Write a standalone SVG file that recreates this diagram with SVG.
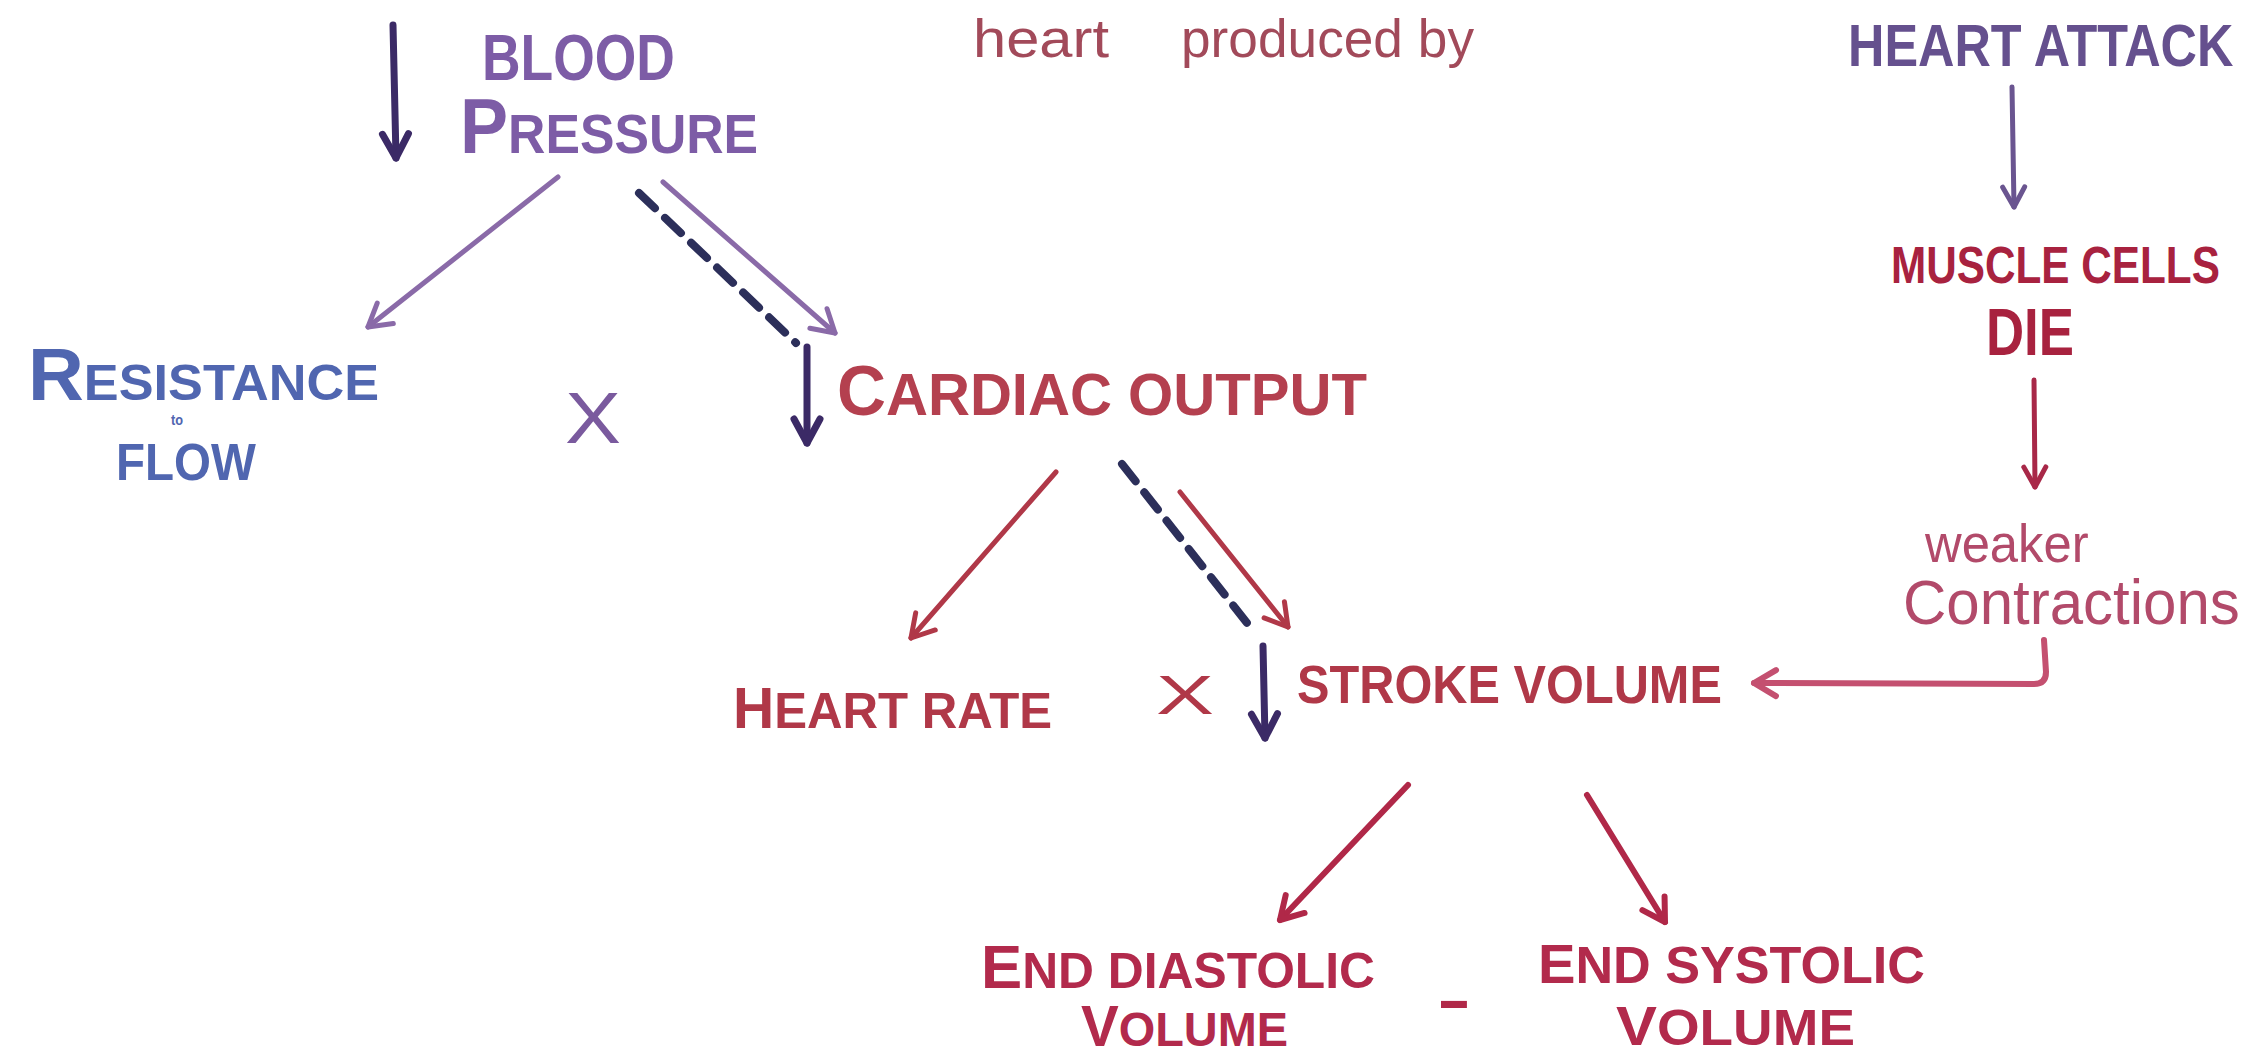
<svg xmlns="http://www.w3.org/2000/svg" width="2244" height="1059" viewBox="0 0 2244 1059">
<style>
text{font-family:"Liberation Sans","Open Sans",sans-serif;font-weight:700}
.bp{fill:#7d5ca6}
.res{fill:#5066b0}
.co{fill:#b4404f}
.red{fill:#b03848}
.crim{fill:#b22a4c}
.ha{fill:#65508e}
.mc{fill:#a8223f}
.wk{fill:#b24a6a;font-weight:400}
.top{fill:#a24a5a;font-weight:400}
.op{font-weight:400}
.ln{fill:none;stroke-linecap:round;stroke-linejoin:round}
</style>
<defs>
<marker id="ah-lp" viewBox="-30 -20 40 40" refX="0" refY="0" markerWidth="40" markerHeight="40" markerUnits="userSpaceOnUse" orient="auto"><path d="M-22,-13 L0,0 L-22,13" fill="none" stroke="#8a6aa8" stroke-width="5" stroke-linecap="round" stroke-linejoin="round"/></marker>
<marker id="ah-dp" viewBox="-30 -20 40 40" refX="0" refY="0" markerWidth="40" markerHeight="40" markerUnits="userSpaceOnUse" orient="auto"><path d="M-24,-13 L0,0 L-24,13" fill="none" stroke="#3b2a66" stroke-width="7" stroke-linecap="round" stroke-linejoin="round"/></marker>
<marker id="ah-red" viewBox="-30 -20 40 40" refX="0" refY="0" markerWidth="40" markerHeight="40" markerUnits="userSpaceOnUse" orient="auto"><path d="M-22,-13 L0,0 L-22,13" fill="none" stroke="#b03848" stroke-width="5" stroke-linecap="round" stroke-linejoin="round"/></marker>
<marker id="ah-crim" viewBox="-30 -20 40 40" refX="0" refY="0" markerWidth="40" markerHeight="40" markerUnits="userSpaceOnUse" orient="auto"><path d="M-22,-13 L0,0 L-22,13" fill="none" stroke="#b02848" stroke-width="6" stroke-linecap="round" stroke-linejoin="round"/></marker>
<marker id="ah-ha" viewBox="-30 -20 40 40" refX="0" refY="0" markerWidth="40" markerHeight="40" markerUnits="userSpaceOnUse" orient="auto"><path d="M-20,-11 L0,0 L-20,11" fill="none" stroke="#6a5590" stroke-width="5" stroke-linecap="round" stroke-linejoin="round"/></marker>
<marker id="ah-mc" viewBox="-30 -20 40 40" refX="0" refY="0" markerWidth="40" markerHeight="40" markerUnits="userSpaceOnUse" orient="auto"><path d="M-20,-11 L0,0 L-20,11" fill="none" stroke="#a82848" stroke-width="5" stroke-linecap="round" stroke-linejoin="round"/></marker>
<marker id="ah-pk" viewBox="-30 -20 40 40" refX="0" refY="0" markerWidth="40" markerHeight="40" markerUnits="userSpaceOnUse" orient="auto"><path d="M-22,-13 L0,0 L-22,13" fill="none" stroke="#c45070" stroke-width="6" stroke-linecap="round" stroke-linejoin="round"/></marker>
</defs>

<g id="connectors">
<line class="ln" x1="393" y1="25" x2="396" y2="158" stroke="#3b2a66" stroke-width="7" marker-end="url(#ah-dp)"/>
<line class="ln" x1="558" y1="177" x2="368" y2="327" stroke="#8a6aa8" stroke-width="5" marker-end="url(#ah-lp)"/>
<line class="ln" x1="639" y1="193" x2="796" y2="343" stroke="#2c2f5a" stroke-width="8" stroke-dasharray="22 14" stroke-linecap="butt"/>
<line class="ln" x1="663" y1="182" x2="835" y2="333" stroke="#8a6aa8" stroke-width="5" marker-end="url(#ah-lp)"/>
<line class="ln" x1="807" y1="347" x2="807" y2="443" stroke="#3b2a66" stroke-width="7" marker-end="url(#ah-dp)"/>
<line class="ln" x1="1056" y1="472" x2="911" y2="638" stroke="#b03848" stroke-width="5" marker-end="url(#ah-red)"/>
<line class="ln" x1="1122" y1="464" x2="1247" y2="623" stroke="#2c2f5a" stroke-width="8" stroke-dasharray="22 14" stroke-linecap="butt"/>
<line class="ln" x1="1180" y1="492" x2="1288" y2="627" stroke="#b03848" stroke-width="5" marker-end="url(#ah-red)"/>
<line class="ln" x1="1263" y1="646" x2="1265" y2="738" stroke="#3b2a66" stroke-width="7" marker-end="url(#ah-dp)"/>
<line class="ln" x1="1408" y1="785" x2="1280" y2="920" stroke="#b02848" stroke-width="6" marker-end="url(#ah-crim)"/>
<line class="ln" x1="1587" y1="795" x2="1665" y2="922" stroke="#b02848" stroke-width="6" marker-end="url(#ah-crim)"/>
<line class="ln" x1="2012" y1="87" x2="2014" y2="207" stroke="#6a5590" stroke-width="5" marker-end="url(#ah-ha)"/>
<line class="ln" x1="2034" y1="380" x2="2035" y2="487" stroke="#a82848" stroke-width="5" marker-end="url(#ah-mc)"/>
<path class="ln" d="M2044,640 L2046,672 Q2046,684 2034,684 L1754,683" stroke="#c45070" stroke-width="6" marker-end="url(#ah-pk)"/>
</g>

<g id="top-note">
<text class="top" x="973" y="57" font-size="54" textLength="136" lengthAdjust="spacingAndGlyphs">heart</text>
<text class="top" x="1181" y="57" font-size="54" textLength="293" lengthAdjust="spacingAndGlyphs">produced by</text>
</g>

<g id="blood-pressure">
<text class="bp" transform="translate(482,80) scale(0.835,1)" font-size="64" textLength="231" lengthAdjust="spacingAndGlyphs">BLOOD</text>
<text class="bp" transform="translate(460,153) scale(0.923,1)" font-size="56" textLength="323" lengthAdjust="spacingAndGlyphs"><tspan font-size="78">P</tspan>RESSURE</text>
</g>

<g id="resistance">
<text class="res" x="28" y="400" font-size="50" textLength="351" lengthAdjust="spacingAndGlyphs"><tspan font-size="74">R</tspan>ESISTANCE</text>
<text class="res" x="171" y="425" font-size="14" textLength="12" lengthAdjust="spacingAndGlyphs">to</text>
<text class="res" transform="translate(116,480) scale(0.915,1)" font-size="52" textLength="153" lengthAdjust="spacingAndGlyphs">FLOW</text>
</g>

<g id="op-times-1">
<text class="op" x="565" y="443" font-size="72" fill="#7a5a9e" textLength="56" lengthAdjust="spacingAndGlyphs">X</text>
</g>

<g id="cardiac-output">
<text class="co" transform="translate(837,415) scale(0.969,1)" font-size="60" textLength="547" lengthAdjust="spacingAndGlyphs"><tspan font-size="70">C</tspan>ARDIAC OUTPUT</text>
</g>

<g id="heart-rate">
<text class="red" transform="translate(733,728) scale(0.97,1)" font-size="50" textLength="329" lengthAdjust="spacingAndGlyphs"><tspan font-size="58">H</tspan>EART RATE</text>
</g>

<g id="op-times-2">
<text class="op" x="1156" y="714" font-size="56" fill="#b03848" textLength="58" lengthAdjust="spacingAndGlyphs">X</text>
</g>

<g id="stroke-volume">
<text class="red" transform="translate(1297,703) scale(0.904,1)" font-size="54" textLength="470" lengthAdjust="spacingAndGlyphs">STROKE VOLUME</text>
</g>

<g id="end-diastolic">
<text class="crim" x="981" y="988" font-size="50" textLength="394" lengthAdjust="spacingAndGlyphs"><tspan font-size="62">E</tspan>ND DIASTOLIC</text>
<text class="crim" x="1081" y="1046" font-size="48" textLength="207" lengthAdjust="spacingAndGlyphs"><tspan font-size="58">V</tspan>OLUME</text>
</g>

<g id="op-minus">
<text x="1437" y="1020" font-size="60" fill="#b02848" textLength="34" lengthAdjust="spacingAndGlyphs">-</text>
</g>

<g id="end-systolic">
<text class="crim" x="1538" y="983" font-size="52" textLength="387" lengthAdjust="spacingAndGlyphs"><tspan font-size="56">E</tspan>ND SYSTOLIC</text>
<text class="crim" x="1616" y="1045" font-size="50" textLength="239" lengthAdjust="spacingAndGlyphs"><tspan font-size="56">V</tspan>OLUME</text>
</g>

<g id="heart-attack">
<text class="ha" transform="translate(1848,66) scale(0.82,1)" font-size="60" textLength="470" lengthAdjust="spacingAndGlyphs">HEART ATTACK</text>
</g>

<g id="muscle-cells-die">
<text class="mc" transform="translate(1891,283) scale(0.814,1)" font-size="52" textLength="404" lengthAdjust="spacingAndGlyphs">MUSCLE CELLS</text>
<text class="mc" transform="translate(1986,355) scale(0.8,1)" font-size="66" textLength="110" lengthAdjust="spacingAndGlyphs">DIE</text>
</g>

<g id="weaker-contractions">
<text class="wk" transform="translate(1925,562) scale(0.94,1)" font-size="54" textLength="174" lengthAdjust="spacingAndGlyphs">weaker</text>
<text class="wk" transform="translate(1903,624) scale(0.968,1)" font-size="62" textLength="348" lengthAdjust="spacingAndGlyphs">Contractions</text>
</g>
</svg>
